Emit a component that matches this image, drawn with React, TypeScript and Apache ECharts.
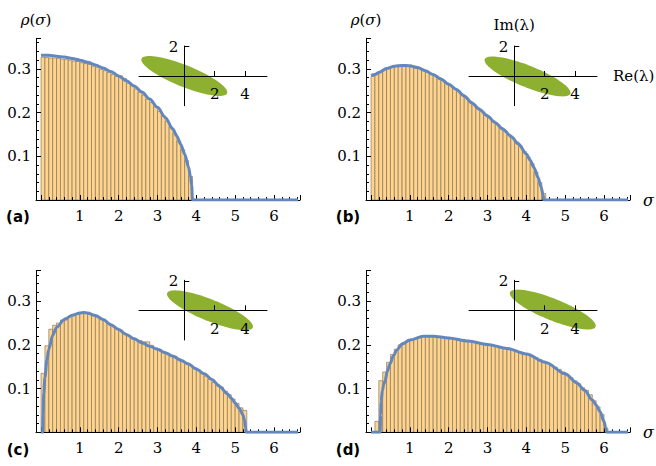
import React, { useEffect, useRef } from "react";
import * as echarts from "echarts";

// ---------- data ----------
const binWidth = 0.1;
const barsA = [0.327,0.326,0.325,0.325,0.324,0.322,0.322,0.320,0.318,0.317,0.314,0.312,0.310,0.306,0.303,0.299,0.296,0.292,0.287,0.283,0.284,0.278,0.267,0.261,0.254,0.247,0.240,0.231,0.223,0.213,0.203,0.193,0.180,0.167,0.152,0.135,0.115,0.090,0.054];
const barsB = [0.283,0.287,0.292,0.298,0.302,0.304,0.306,0.307,0.308,0.306,0.305,0.303,0.300,0.297,0.293,0.289,0.285,0.280,0.274,0.268,0.262,0.256,0.250,0.242,0.234,0.226,0.219,0.211,0.203,0.196,0.188,0.181,0.173,0.166,0.158,0.150,0.142,0.133,0.123,0.111,0.098,0.083,0.064,0.040,0.015];
const barsC = [0.135,0.198,0.236,0.245,0.250,0.257,0.262,0.266,0.268,0.270,0.272,0.272,0.270,0.268,0.264,0.260,0.255,0.249,0.244,0.238,0.234,0.226,0.221,0.216,0.212,0.210,0.207,0.207,0.199,0.193,0.190,0.185,0.181,0.177,0.174,0.168,0.163,0.159,0.154,0.148,0.143,0.136,0.129,0.121,0.114,0.110,0.103,0.094,0.086,0.076,0.066,0.056,0.050];
const barsD = [0.000,0.025,0.118,0.138,0.160,0.178,0.190,0.200,0.205,0.209,0.212,0.215,0.218,0.220,0.220,0.220,0.219,0.218,0.217,0.216,0.214,0.212,0.212,0.210,0.209,0.208,0.206,0.205,0.203,0.202,0.200,0.199,0.197,0.195,0.193,0.191,0.189,0.186,0.184,0.180,0.178,0.174,0.171,0.167,0.163,0.158,0.154,0.149,0.144,0.138,0.132,0.125,0.118,0.111,0.102,0.096,0.086,0.072,0.058,0.041,0.010];

const curveAX = [0,0.2,0.4,0.6,0.8,1.0,1.2,1.4,1.6,1.8,2.0,2.2,2.4,2.6,2.8,3.0,3.2,3.4,3.5,3.6,3.7,3.8,3.85,3.88,3.9,6.62];
const curveAY = [0.331,0.331,0.329,0.327,0.324,0.320,0.315,0.309,0.302,0.294,0.284,0.273,0.261,0.247,0.231,0.212,0.189,0.162,0.146,0.127,0.105,0.075,0.053,0.034,0,0];
const curveBX = [0,0.1,0.2,0.4,0.6,0.8,1.0,1.2,1.4,1.6,1.8,2.0,2.2,2.4,2.6,2.8,3.0,3.2,3.4,3.6,3.8,4.0,4.1,4.2,4.3,4.38,4.43,4.45,6.62];
const curveBY = [0.285,0.287,0.292,0.301,0.306,0.308,0.307,0.303,0.296,0.287,0.277,0.265,0.253,0.238,0.222,0.207,0.192,0.177,0.162,0.146,0.128,0.105,0.091,0.074,0.052,0.030,0.012,0,0];
const curveCX = [0,0.04,0.05,0.07,0.1,0.15,0.2,0.3,0.4,0.6,0.8,1.0,1.1,1.2,1.4,1.6,1.8,2.0,2.2,2.4,2.6,2.8,3.0,3.2,3.4,3.6,3.8,4.0,4.2,4.4,4.6,4.8,4.9,5.0,5.1,5.2,5.24,5.27,5.28,6.62];
const curveCY = [0,0,0.04,0.09,0.125,0.165,0.19,0.222,0.24,0.258,0.268,0.273,0.274,0.273,0.267,0.258,0.246,0.235,0.224,0.214,0.205,0.197,0.190,0.182,0.174,0.165,0.156,0.145,0.134,0.121,0.105,0.088,0.078,0.067,0.055,0.040,0.028,0.010,0,0];
const curveDX = [0,0.235,0.245,0.26,0.29,0.33,0.36,0.42,0.49,0.575,0.66,0.8,1.0,1.35,1.6,2.0,2.5,3.0,3.5,4.0,4.5,5.0,5.3,5.5,5.7,5.8,5.9,6.0,6.05,6.07,6.62];
const curveDY = [0,0,0.04,0.07,0.095,0.11,0.118,0.14,0.157,0.175,0.188,0.202,0.211,0.220,0.220,0.216,0.209,0.201,0.192,0.179,0.160,0.134,0.113,0.096,0.074,0.062,0.047,0.025,0.008,0,0];

const ellipseCx = [0, 0.87, 1.69, 2.53];
const ellipseCy = [0, -0.03, 0, 0.05];
const ellipseSemiMajor = [3.05, 3.05, 3.05, 3.05];
const ellipseSemiMinor = [0.73, 0.73, 0.73, 0.73];
const ellipseTiltDeg = [-22.7, -22.7, -22.7, -22.7];

const insetXTicks = [2, 4];
const insetYTicks = [2];
const panelLabels = ["(a)", "(b)", "(c)", "(d)"];

// ---------- style ----------
const BAR_FILL = "#FFD48C";
const BAR_EDGE = "rgba(125,105,85,0.6)";
const CURVE = "#6287BF";
const GREEN = "#8EB031";
const SERIF = "DejaVu Serif";
const FS = 15;

const panels = [
  { bars: barsA, cx: curveAX, cy: curveAY, left: 36, top: 38.3, ileft: 139, itop: 46, yName: true, xName: false, iNames: false, lx: 18, ly: 217 },
  { bars: barsB, cx: curveBX, cy: curveBY, left: 366, top: 38.3, ileft: 469, itop: 46, yName: true, xName: true, iNames: true, lx: 348, ly: 217 },
  { bars: barsC, cx: curveCX, cy: curveCY, left: 36, top: 270.6, ileft: 139, itop: 280.3, yName: false, xName: false, iNames: false, lx: 18, ly: 449.5 },
  { bars: barsD, cx: curveDX, cy: curveDY, left: 366, top: 270.6, ileft: 469, itop: 280.3, yName: false, xName: true, iNames: false, lx: 348, ly: 449.5 },
];

const INSET_X_MIN = -2.98, INSET_X_MAX = 5.44, INSET_Y_MIN = -2.02, INSET_Y_MAX = 2.04;
const INSET_W = 128, INSET_H = 59.7;

function buildOption() {
  const grid: any[] = [];
  const xAxis: any[] = [];
  const yAxis: any[] = [];
  const series: any[] = [];
  const graphic: any[] = [];
  const black = { color: "#000", width: 1 };
  const hidden = { show: false };
  const lbl = { fontFamily: SERIF, fontSize: FS, color: "#000" };

  panels.forEach((p, i) => {
    const g = grid.length;
    grid.push({ left: p.left, top: p.top, width: 264, height: 161.7 });
    const xMain = xAxis.length;
    const yMain = yAxis.length;
    xAxis.push({
      type: "value", gridIndex: g, min: -0.13, max: 6.67, splitNumber: 7, position: "bottom", z: 5,
      axisLine: { onZero: false, lineStyle: black },
      axisTick: { inside: true, length: 5, lineStyle: black },
      minorTick: { show: true, splitNumber: 5, length: 3, lineStyle: black },
      axisLabel: {
        margin: 8, ...lbl, showMinLabel: true, showMaxLabel: true,
        formatter: (v: number) => (v > 0.5 && Math.abs(v - Math.round(v)) < 1e-6 ? String(Math.round(v)) : ""),
      },
      splitLine: hidden,
      name: p.xName ? "σ" : "", nameLocation: "end", nameGap: 13,
      nameTextStyle: { fontFamily: SERIF, fontStyle: "italic", fontSize: 16, color: "#000", verticalAlign: "middle" },
    });
    yAxis.push({
      type: "value", gridIndex: g, min: 0, max: 0.37, splitNumber: 4, position: "left", z: 5,
      axisLine: { show: true, onZero: false, lineStyle: black },
      axisTick: { show: true, inside: true, length: 5, lineStyle: black },
      minorTick: { show: true, splitNumber: 5, length: 3, lineStyle: black },
      axisLabel: {
        margin: 5, ...lbl, showMinLabel: true, showMaxLabel: true,
        formatter: (v: number) => (v > 0.05 && v < 0.35 ? v.toFixed(1) : ""),
      },
      splitLine: hidden,
      name: p.yName ? "{i|ρ}({i|σ})" : "", nameLocation: "end", nameGap: 11,
      nameTextStyle: { ...lbl, align: "center", rich: { i: { ...lbl, fontStyle: "italic" } } },
    });

    const originDx = (-INSET_X_MIN / (INSET_X_MAX - INSET_X_MIN)) * INSET_W;
    const originDy = (INSET_Y_MAX / (INSET_Y_MAX - INSET_Y_MIN)) * INSET_H;
    const gx = grid.length;
    grid.push({ left: p.ileft, top: p.itop, width: INSET_W, height: originDy });
    xAxis.push({
      type: "value", gridIndex: gx, min: INSET_X_MIN, max: INSET_X_MAX, position: "bottom", z: 6,
      axisLine: { onZero: false, lineStyle: black },
      axisTick: { inside: true, length: 5, customValues: insetXTicks, lineStyle: black },
      axisLabel: { customValues: insetXTicks, margin: 11, ...lbl },
      splitLine: hidden,
      name: p.iNames ? "Re(λ)" : "", nameLocation: "end", nameGap: 16,
      nameTextStyle: { ...lbl, verticalAlign: "middle" },
    });
    yAxis.push({ type: "value", gridIndex: gx, min: 0, max: INSET_Y_MAX, show: false });

    const gy = grid.length;
    grid.push({ left: p.ileft + originDx, top: p.itop, width: INSET_W - originDx, height: INSET_H });
    const xIn = xAxis.length;
    xAxis.push({ type: "value", gridIndex: gy, min: 0, max: INSET_X_MAX, show: false });
    const yIn = yAxis.length;
    yAxis.push({
      type: "value", gridIndex: gy, min: INSET_Y_MIN, max: INSET_Y_MAX, position: "left", z: 6,
      axisLine: { show: true, onZero: false, lineStyle: black },
      axisTick: { show: true, inside: true, length: 5, customValues: insetYTicks, lineStyle: black },
      axisLabel: { customValues: insetYTicks, margin: 6, ...lbl },
      splitLine: hidden,
      name: p.iNames ? "Im(λ)" : "", nameLocation: "end", nameGap: 14,
      nameTextStyle: { ...lbl, align: "center" },
    });

    series.push({
      type: "custom", xAxisIndex: xMain, yAxisIndex: yMain, z: 1, silent: true,
      data: p.bars.map((h, k) => [k * binWidth, (k + 1) * binWidth, h]),
      encode: { x: [0, 1], y: 2 },
      renderItem: (params: any, api: any) => {
        const a = api.coord([api.value(0), api.value(2)]);
        const b = api.coord([api.value(1), 0]);
        return {
          type: "rect",
          shape: { x: a[0], y: a[1], width: b[0] - a[0], height: b[1] - a[1] },
          style: { fill: BAR_FILL, stroke: BAR_EDGE, lineWidth: 1 },
        };
      },
    });
    series.push({
      type: "line", xAxisIndex: xMain, yAxisIndex: yMain, z: 10, silent: true,
      showSymbol: false, smooth: 0.3, smoothMonotone: "x",
      data: p.cx.map((x, k) => [x, p.cy[k]]),
      lineStyle: { color: CURVE, width: 3 }, itemStyle: { color: CURVE },
    });
    series.push({
      type: "custom", xAxisIndex: xIn, yAxisIndex: yIn, z: 2, silent: true, clip: false,
      data: [[ellipseCx[i], ellipseCy[i], ellipseSemiMajor[i], ellipseSemiMinor[i], ellipseTiltDeg[i]]],
      renderItem: (params: any, api: any) => {
        const cx = api.value(0), cy = api.value(1), a = api.value(2), b = api.value(3);
        const ang = (api.value(4) * Math.PI) / 180;
        const pts: number[][] = [];
        for (let k = 0; k < 96; k++) {
          const t = (2 * Math.PI * k) / 96;
          const x = cx + a * Math.cos(t) * Math.cos(ang) - b * Math.sin(t) * Math.sin(ang);
          const y = cy + a * Math.cos(t) * Math.sin(ang) + b * Math.sin(t) * Math.cos(ang);
          pts.push(api.coord([x, y]));
        }
        return { type: "polygon", shape: { points: pts }, style: { fill: GREEN } };
      },
    });

    graphic.push({
      type: "text", x: p.lx, y: p.ly,
      style: {
        text: panelLabels[i], fontFamily: "DejaVu Sans", fontWeight: "bold", fontSize: 15,
        fill: "#000", align: "center", verticalAlign: "middle",
      },
    });
  });

  return { animation: false, backgroundColor: "#fff", grid, xAxis, yAxis, series, graphic };
}

export default function App() {
  const ref = useRef<HTMLDivElement>(null);
  useEffect(() => {
    if (!ref.current) return;
    const chart = echarts.init(ref.current, undefined, { renderer: "svg" });
    chart.setOption(buildOption() as any);
    return () => chart.dispose();
  }, []);
  return (
    <div
      ref={ref}
      style={{ position: "fixed", left: 0, top: 0, width: 656, height: 466, background: "#fff" }}
    />
  );
}
